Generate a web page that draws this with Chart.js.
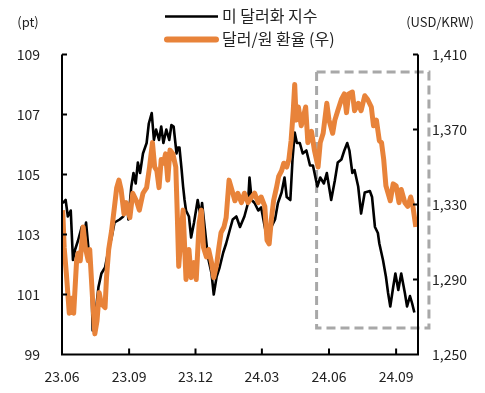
<!DOCTYPE html>
<html>
<head>
<meta charset="utf-8">
<script src="https://cdn.jsdelivr.net/npm/chart.js@4"></script>
<style>
  body { margin: 0; background: #fff; }
  #wrap { width: 485px; height: 393px; }
</style>
</head>
<body>
<div id="wrap"><canvas id="chart" width="485" height="393"></canvas></div>
<script>
// 미 달러화 지수 (좌축, pt)
const dxyDates = [
  '2023-06-02','2023-06-06','2023-06-09','2023-06-13','2023-06-16','2023-06-19','2023-06-23','2023-06-28','2023-06-30',
  '2023-07-04','2023-07-07','2023-07-11','2023-07-13','2023-07-16','2023-07-21','2023-07-25','2023-07-30',
  '2023-08-03','2023-08-08','2023-08-12','2023-08-19','2023-08-24','2023-08-29','2023-08-31',
  '2023-09-04','2023-09-07','2023-09-10','2023-09-13','2023-09-16','2023-09-20','2023-09-25','2023-09-28',
  '2023-10-02','2023-10-05','2023-10-08','2023-10-12','2023-10-15','2023-10-18','2023-10-22','2023-10-26','2023-10-29',
  '2023-11-01','2023-11-05','2023-11-07','2023-11-09','2023-11-12','2023-11-14','2023-11-16','2023-11-18','2023-11-22','2023-11-25','2023-11-29',
  '2023-12-04','2023-12-08','2023-12-10','2023-12-14','2023-12-18','2023-12-23','2023-12-26','2023-12-30',
  '2024-01-03','2024-01-08','2024-01-12','2024-01-17','2024-01-21','2024-01-26','2024-01-31',
  '2024-02-06','2024-02-11','2024-02-13','2024-02-16','2024-02-20','2024-02-25','2024-02-29',
  '2024-03-05','2024-03-09','2024-03-14','2024-03-19','2024-03-23','2024-03-28',
  '2024-04-01','2024-04-04','2024-04-09','2024-04-12','2024-04-15','2024-04-18','2024-04-22','2024-04-26',
  '2024-05-01','2024-05-06','2024-05-10','2024-05-16','2024-05-20','2024-05-25','2024-05-29',
  '2024-06-04','2024-06-09','2024-06-13','2024-06-18','2024-06-22','2024-06-26','2024-06-29',
  '2024-07-03','2024-07-06','2024-07-11','2024-07-15','2024-07-20','2024-07-27','2024-07-30',
  '2024-08-03','2024-08-07','2024-08-09','2024-08-14','2024-08-18','2024-08-21','2024-08-24','2024-08-28','2024-08-31',
  '2024-09-04','2024-09-08','2024-09-13','2024-09-16','2024-09-20','2024-09-23','2024-09-26'
];
const dxyValues = [
  104.05,104.15,103.6,103.8,102.15,102.5,102.8,103.25,102.8,
  103.4,102.6,101.7,99.8,100.15,101.25,101.7,101.9,
  102.4,102.9,103.4,103.5,103.6,104.05,103.5,
  104.6,105.05,104.7,105.4,105.05,105.7,106.05,106.7,
  107.05,106.15,106.5,106.15,106.6,106.05,106.5,106.15,106.65,
  106.6,105.7,105.9,105.9,105.15,104.6,104.15,103.8,103.6,102.9,103.4,
  104.15,103.6,104.05,103.15,102.25,101.7,101.0,101.6,
  101.9,102.4,102.7,103.15,103.5,103.6,103.25,
  103.6,104.05,104.9,104.15,104.05,103.8,103.9,
  103.25,102.75,103.25,103.5,104.05,104.4,
  104.9,104.25,104.15,105.5,106.4,106.05,106.05,105.7,
  105.8,105.3,105.3,104.6,104.9,104.7,105.05,
  104.15,104.8,105.4,105.5,105.8,106.05,105.8,
  105.05,105.15,104.6,103.7,104.4,104.45,104.25,
  103.25,103.05,102.7,102.15,101.6,101.05,100.6,101.25,101.7,
  101.15,101.7,101.05,100.6,100.95,100.7,100.4
];

// 달러/원 환율 (우축, USD/KRW)
const krwDates = [
  '2023-06-02','2023-06-04','2023-06-07','2023-06-11','2023-06-14','2023-06-17','2023-06-21','2023-06-23','2023-06-26','2023-06-30',
  '2023-07-03','2023-07-07','2023-07-09','2023-07-13','2023-07-16','2023-07-19','2023-07-22','2023-07-25','2023-07-30',
  '2023-08-01','2023-08-04','2023-08-08','2023-08-12','2023-08-15','2023-08-18','2023-08-21','2023-08-25','2023-08-28',
  '2023-09-02','2023-09-06','2023-09-11','2023-09-15','2023-09-20','2023-09-25','2023-09-29',
  '2023-10-03','2023-10-06','2023-10-09','2023-10-12','2023-10-15','2023-10-18','2023-10-21','2023-10-24','2023-10-27','2023-10-31',
  '2023-11-04','2023-11-06','2023-11-08','2023-11-12','2023-11-14','2023-11-18','2023-11-22','2023-11-25','2023-11-29',
  '2023-12-02','2023-12-06','2023-12-09','2023-12-12','2023-12-16','2023-12-19','2023-12-23','2023-12-26','2023-12-30',
  '2024-01-02','2024-01-05','2024-01-09','2024-01-12','2024-01-16','2024-01-19','2024-01-24','2024-01-28',
  '2024-02-02','2024-02-06','2024-02-11','2024-02-16','2024-02-20','2024-02-25','2024-02-29',
  '2024-03-05','2024-03-08','2024-03-11','2024-03-14','2024-03-17','2024-03-21','2024-03-24','2024-03-28','2024-03-31',
  '2024-04-04','2024-04-07','2024-04-10','2024-04-13','2024-04-15','2024-04-17','2024-04-20','2024-04-24','2024-04-27','2024-04-30',
  '2024-05-03','2024-05-08','2024-05-12','2024-05-17','2024-05-20','2024-05-24','2024-05-29',
  '2024-06-01','2024-06-06','2024-06-09','2024-06-13','2024-06-18','2024-06-22','2024-06-25','2024-06-28',
  '2024-07-03','2024-07-06','2024-07-11','2024-07-15','2024-07-20','2024-07-24','2024-07-29',
  '2024-08-01','2024-08-05','2024-08-09','2024-08-12','2024-08-15','2024-08-18','2024-08-21','2024-08-24','2024-08-28',
  '2024-09-01','2024-09-05','2024-09-08','2024-09-13','2024-09-17','2024-09-21','2024-09-24','2024-09-28'
];
const krwValues = [
  1327,1307,1293,1272,1280,1272,1300,1304,1300,1318,
  1307,1300,1306,1279,1261,1268,1283,1277,1275,
  1291,1306,1316,1329,1339,1343,1338,1325,1331,
  1323,1336,1332,1327,1336,1339,1350,
  1363,1350,1348,1339,1354,1352,1357,1343,1359,1357,
  1350,1325,1297,1318,1327,1290,1306,1291,1299,
  1290,1320,1327,1307,1302,1306,1299,1291,1298,
  1307,1315,1318,1323,1343,1339,1332,1336,
  1331,1336,1331,1334,1336,1331,1334,
  1329,1311,1309,1322,1332,1339,1345,1348,1352,
  1350,1354,1364,1380,1394,1375,1382,1372,1377,1382,
  1363,1369,1359,1350,1363,1368,1384,
  1375,1368,1375,1380,1386,1389,1379,1389,
  1390,1380,1384,1380,1388,1386,1382,
  1372,1375,1364,1363,1354,1340,1336,1332,1341,
  1340,1331,1338,1331,1329,1334,1329,1318
];

const xTickDates = ['2023-06-01','2023-09-01','2023-12-01','2024-03-01','2024-06-01','2024-09-01'];
const xTickLabels = ['23.06','23.09','23.12','24.03','24.06','24.09'];
const xStart = '2023-06-01';
const xEnd = '2024-10-01';

// 점선 박스 구간
const boxFrom = '2024-05-15';
const boxTo = '2024-10-16';
const boxTop = 108.42;
const boxBottom = 99.88;

const FONT = '"Noto Sans CJK KR", "Noto Sans", sans-serif';
const ORANGE = '#E8833A';

function dayOf(s) {
  const [y, m, d] = s.split('-').map(Number);
  const [y0, m0, d0] = xStart.split('-').map(Number);
  return (Date.UTC(y, m - 1, d) - Date.UTC(y0, m0 - 1, d0)) / 86400000;
}

const toPoints = (dates, vals) => dates.map((d, i) => ({ x: dayOf(d), y: vals[i] }));

const overlay = {
  id: 'overlay',
  beforeDatasetsDraw(chart) {
    const ctx = chart.ctx;
    const xs = chart.scales.x, yl = chart.scales.y;
    const x1 = xs.getPixelForValue(dayOf(boxFrom));
    const x2 = xs.getPixelForValue(dayOf(boxTo));
    const y1 = yl.getPixelForValue(boxTop);
    const y2 = yl.getPixelForValue(boxBottom);
    ctx.save();
    ctx.strokeStyle = '#A8A8A8';
    ctx.lineWidth = 3;
    ctx.setLineDash([9, 5]);
    ctx.strokeRect(x1, y1, x2 - x1, y2 - y1);
    ctx.restore();
  },
  afterDraw(chart) {
    const ctx = chart.ctx;
    const { left, right, top, bottom } = chart.chartArea;
    const xs = chart.scales.x, yl = chart.scales.y, yr = chart.scales.y1;
    ctx.save();
    ctx.strokeStyle = '#000';
    ctx.lineWidth = 2;
    ctx.beginPath();
    ctx.moveTo(left, top); ctx.lineTo(left, bottom); ctx.lineTo(right, bottom); ctx.lineTo(right, top);
    yl.ticks.forEach(t => { const p = yl.getPixelForValue(t.value); ctx.moveTo(left, p); ctx.lineTo(left + 5, p); });
    yr.ticks.forEach(t => { const p = yr.getPixelForValue(t.value); ctx.moveTo(right, p); ctx.lineTo(right - 5, p); });
    xs.ticks.forEach(t => { const p = xs.getPixelForValue(t.value); ctx.moveTo(p, bottom); ctx.lineTo(p, bottom - 6); });
    ctx.stroke();

    // 범례
    ctx.lineCap = 'butt';
    ctx.lineWidth = 2.5;
    ctx.beginPath(); ctx.moveTo(165, 16.5); ctx.lineTo(218, 16.5); ctx.stroke();
    ctx.strokeStyle = ORANGE;
    ctx.lineCap = 'round';
    ctx.lineWidth = 6;
    ctx.beginPath(); ctx.moveTo(167, 39.5); ctx.lineTo(216, 39.5); ctx.stroke();

    ctx.fillStyle = '#222';
    ctx.textBaseline = 'middle';
    ctx.font = '16px ' + FONT;
    ctx.textAlign = 'left';
    ctx.fillText('미 달러화 지수', 222, 16);
    ctx.fillText('달러/원 환율 (우)', 222, 39);

    ctx.font = '13px ' + FONT;
    ctx.textAlign = 'center';
    ctx.fillText('(pt)', 28, 22);
    ctx.fillText('(USD/KRW)', 440, 22);
    ctx.restore();
  }
};

const tickFont = { family: FONT, size: 14 };

new Chart(document.getElementById('chart'), {
  type: 'line',
  data: {
    datasets: [
      {
        label: '미 달러화 지수',
        data: toPoints(dxyDates, dxyValues),
        yAxisID: 'y',
        borderColor: '#000',
        borderWidth: 2.6,
        pointRadius: 0,
        borderJoinStyle: 'round',
        order: 2
      },
      {
        label: '달러/원 환율 (우)',
        data: toPoints(krwDates, krwValues),
        yAxisID: 'y1',
        borderColor: ORANGE,
        borderWidth: 5,
        pointRadius: 0,
        borderJoinStyle: 'round',
        order: 1
      }
    ]
  },
  options: {
    responsive: false,
    animation: false,
    layout: { padding: { top: 54.5, left: 0, right: 0, bottom: 0 } },
    plugins: { legend: { display: false }, tooltip: { enabled: false } },
    scales: {
      x: {
        type: 'linear',
        min: dayOf(xStart),
        max: dayOf(xEnd),
        grid: { display: false, drawTicks: false },
        border: { display: false },
        afterBuildTicks: s => { s.ticks = xTickDates.map(d => ({ value: dayOf(d) })); },
        afterFit: s => { s.height = 38.5; },
        ticks: {
          autoSkip: false,
          maxRotation: 0,
          padding: 14,
          color: '#222',
          font: tickFont,
          callback: (v) => xTickLabels[xTickDates.map(dayOf).indexOf(v)]
        }
      },
      y: {
        position: 'left',
        min: 99,
        max: 109,
        grid: { display: false, drawTicks: false },
        border: { display: false },
        afterFit: s => { s.width = 62; },
        ticks: { stepSize: 2, padding: 22, color: '#222', font: tickFont }
      },
      y1: {
        position: 'right',
        min: 1250,
        max: 1410,
        grid: { display: false, drawTicks: false },
        border: { display: false },
        afterFit: s => { s.width = 67; },
        ticks: {
          stepSize: 40,
          padding: 14,
          color: '#222',
          font: tickFont,
          callback: v => v.toLocaleString('en-US')
        }
      }
    }
  },
  plugins: [overlay]
});
</script>
</body>
</html>
